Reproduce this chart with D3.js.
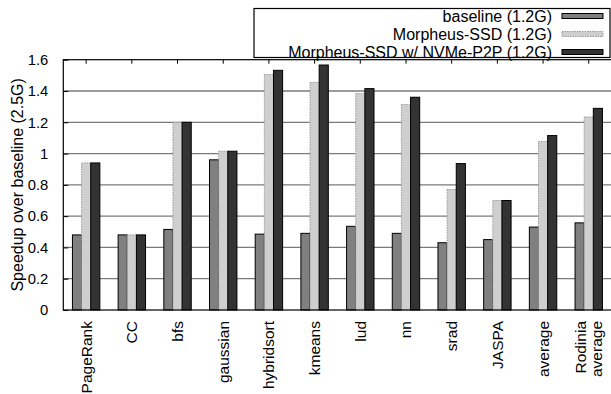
<!DOCTYPE html>
<html>
<head>
<meta charset="utf-8">
<script src="https://cdn.jsdelivr.net/npm/d3@7"></script>
<style>
  html, body { margin: 0; padding: 0; background: #fff; }
  svg { display: block; font-family: "Liberation Sans", Arial, Helvetica, sans-serif; }
</style>
</head>
<body>
<svg id="chart" width="611" height="394"></svg>
<script>
// Benchmarks along the x axis
const categories = ["PageRank", "CC", "bfs", "gaussian", "hybridsort", "kmeans",
                    "lud", "nn", "srad", "JASPA", "average", "Rodinia\naverage"];

// Series names (legend order) and their speedups
const seriesNames = ["baseline (1.2G)", "Morpheus-SSD (1.2G)", "Morpheus-SSD w/ NVMe-P2P (1.2G)"];
const baselineValues = [0.48, 0.48, 0.515, 0.96, 0.485, 0.49, 0.535, 0.49, 0.43, 0.45, 0.53, 0.557];
const morpheusValues = [0.94, 0.48, 1.20, 1.015, 1.505, 1.455, 1.383, 1.313, 0.77, 0.70, 1.077, 1.234];
const p2pValues      = [0.94, 0.48, 1.20, 1.015, 1.532, 1.566, 1.415, 1.36, 0.936, 0.70, 1.115, 1.289];

const yTicks = [0, 0.2, 0.4, 0.6, 0.8, 1, 1.2, 1.4, 1.6];
const yLabel = "Speedup over baseline (2.5G)";

const seriesValues = [baselineValues, morpheusValues, p2pValues];
const fills = ["#808080", "#cfcfcf", "#333333"];
const strokes = ["#000", "#9a9a9a", "#000"];
const dashes = [null, "1.5,1", null];

const svg = d3.select("#chart");
const m = { left: 63.3, right: 611.6, top: 59.7, bottom: 310 };

const x = d3.scaleBand().domain(categories).range([m.left, m.right]).padding(0);
const bw = x.bandwidth();
const x1 = d3.scaleBand().domain(d3.range(seriesNames.length)).range([bw * 0.2, bw * 0.8]).padding(0);
const y = d3.scaleLinear().domain([0, 1.6]).range([m.bottom, m.top]);

// Horizontal grid lines
svg.append("g")
  .selectAll("line")
  .data(yTicks.filter(t => t > 0 && t < 1.6))
  .join("line")
  .attr("x1", m.left).attr("x2", m.right)
  .attr("y1", d => y(d)).attr("y2", d => y(d))
  .attr("stroke", "#7a7a7a").attr("stroke-width", 1.3);

// Bars
const groups = svg.append("g")
  .selectAll("g")
  .data(categories.map((c, i) => ({ c, vals: seriesValues.map(s => s[i]) })))
  .join("g")
  .attr("transform", d => `translate(${x(d.c)},0)`);

groups.selectAll("rect")
  .data(d => d.vals.map((v, k) => ({ v, k })))
  .join("rect")
  .attr("x", d => x1(d.k))
  .attr("width", x1.bandwidth())
  .attr("y", d => y(d.v))
  .attr("height", d => y(0) - y(d.v))
  .attr("fill", d => fills[d.k])
  .attr("stroke", d => strokes[d.k])
  .attr("stroke-width", 1)
  .attr("stroke-dasharray", d => dashes[d.k]);

// Frame
svg.append("rect")
  .attr("x", m.left).attr("y", m.top)
  .attr("width", m.right - m.left).attr("height", m.bottom - m.top)
  .attr("fill", "none").attr("stroke", "#000").attr("stroke-width", 1.2);

// Y axis: inward ticks with labels on the left
const yAxis = d3.axisLeft(y).tickValues(yTicks).tickSize(-5).tickPadding(15)
  .tickFormat(d3.format("~g"));
const ya = svg.append("g").attr("transform", `translate(${m.left},0)`).call(yAxis);
ya.select(".domain").remove();
ya.selectAll("line").attr("stroke", "#000");
ya.selectAll("text").attr("font-size", 14.8).attr("fill", "#000")
  .attr("font-family", "Liberation Sans, Arial, sans-serif");

// Top mirror ticks at category centres
svg.append("g")
  .selectAll("line")
  .data(categories)
  .join("line")
  .attr("x1", d => x(d) + bw / 2).attr("x2", d => x(d) + bw / 2)
  .attr("y1", m.top).attr("y2", m.top + 4)
  .attr("stroke", "#000");

// Rotated category labels
const lab = svg.append("g").attr("font-size", 15.5).attr("fill", "#000");
categories.forEach(c => {
  const lines = c.split("\n");
  const cx = x(c) + bw / 2;
  lines.forEach((t, j) => {
    const off = (j - (lines.length - 1) / 2) * 16.5;
    lab.append("text")
      .attr("transform", `translate(${cx + off},321) rotate(-90)`)
      .attr("text-anchor", "end")
      .attr("dy", "0.35em")
      .text(t);
  });
});

// Y axis title
svg.append("text")
  .attr("transform", `translate(17,${(m.top + m.bottom) / 2}) rotate(-90)`)
  .attr("text-anchor", "middle")
  .attr("dy", "0.35em")
  .attr("font-size", 16)
  .text(yLabel);

// Legend
const lg = svg.append("g");
lg.append("rect")
  .attr("x", 254).attr("y", 8.5).attr("width", 356).attr("height", 49)
  .attr("fill", "#fff").attr("stroke", "#000").attr("stroke-width", 1.2);
seriesNames.forEach((name, k) => {
  const cy = 16 + k * 18;
  lg.append("text")
    .attr("x", 552).attr("y", cy).attr("dy", "0.35em")
    .attr("text-anchor", "end").attr("font-size", 16)
    .text(name);
  lg.append("rect")
    .attr("x", 562).attr("y", cy - 2.5).attr("width", 41).attr("height", 5)
    .attr("fill", fills[k]).attr("stroke", strokes[k])
    .attr("stroke-dasharray", dashes[k]);
});
</script>
</body>
</html>
